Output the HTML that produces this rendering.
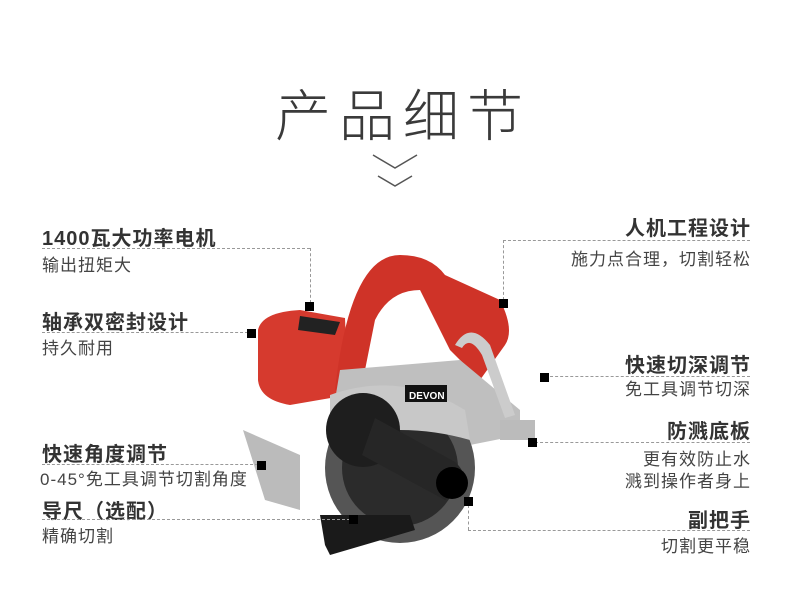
<!DOCTYPE html>
<html><head><meta charset="utf-8"><style>
body{margin:0;width:790px;height:600px;background:#fff;position:relative;overflow:hidden;font-family:"Liberation Sans","Noto Sans CJK SC",sans-serif;}
.t{position:absolute;white-space:nowrap;color:#333;}
.b{font-weight:bold;font-size:20px;letter-spacing:1px;color:#333;}
.s{font-size:17px;letter-spacing:1px;color:#444;}
.r{text-align:right;right:39px;}
.dl{position:absolute;border-top:1px dashed #999;height:0;}
.dv{position:absolute;border-left:1px dashed #999;width:0;}
.sq{position:absolute;width:9px;height:9px;background:#000;}
</style></head><body>
<div class="t" style="left:8px;width:790px;text-align:center;top:72px;font-size:56px;color:#3a3a3a;letter-spacing:8px;font-weight:300">产品细节</div>
<svg style="position:absolute;left:0;top:0" width="790" height="600">
<polyline points="373,155 395,168 417,155" fill="none" stroke="#555" stroke-width="1.5"/>
<polyline points="378,176 395,186 412,176" fill="none" stroke="#555" stroke-width="1.5"/>
<path d="M258,330 Q262,312 300,310 L345,318 L348,395 L290,405 Q260,400 258,380 Z" fill="#d63a2e"/>
<path d="M300,316 L340,322 L335,335 L298,330Z" fill="#222"/>
<path d="M335,390 Q350,255 400,255 Q430,255 445,275 L500,300 Q515,330 505,345 L480,380 L450,350 L420,290 Q390,290 375,320 L360,395 Z" fill="#cf3328"/>
<path d="M340,370 L460,360 L520,410 L520,435 L470,445 L330,430 Z" fill="#bfbfbf"/>
<circle cx="400" cy="468" r="75" fill="#555"/>
<circle cx="400" cy="468" r="58" fill="#2b2b2b"/>
<path d="M330,395 Q400,370 465,410 L470,440 Q400,420 330,440Z" fill="#c8c8c8"/>
<rect x="405" y="385" width="42" height="17" fill="#111"/>
<text x="409" y="399" font-size="10" fill="#fff" font-family="Liberation Sans" font-weight="bold">DEVON</text>
<circle cx="363" cy="430" r="37" fill="#1e1e1e"/>
<path d="M375,418 L455,462 Q470,475 460,492 L445,500 L362,455 Z" fill="#262626"/>
<circle cx="452" cy="483" r="16" fill="#000"/>
<path d="M243,430 L300,455 L300,510 L265,500 Z" fill="#bbb"/>
<path d="M320,515 L410,515 L415,530 L330,555 L325,545 Z" fill="#1a1a1a"/>
<path d="M455,345 Q470,320 490,345 L515,415 L505,418 L482,355 Q470,335 462,348 Z" fill="#ccc"/>
<path d="M500,420 L535,420 L535,440 L500,440Z" fill="#bbb"/>
</svg>
<div class="t b" style="left:42px;top:222px">1400瓦大功率电机</div>
<div class="t s" style="left:42px;top:251px">输出扭矩大</div>
<div class="dl" style="left:42px;top:248px;width:268px"></div>
<div class="dv" style="left:310px;top:248px;height:55px"></div>
<div class="sq" style="left:305px;top:302px"></div>

<div class="t b" style="left:42px;top:306px">轴承双密封设计</div>
<div class="t s" style="left:42px;top:334px">持久耐用</div>
<div class="dl" style="left:42px;top:332px;width:206px"></div>
<div class="sq" style="left:247px;top:329px"></div>

<div class="t b" style="left:42px;top:438px">快速角度调节</div>
<div class="t s" style="left:40px;top:465px">0-45°免工具调节切割角度</div>
<div class="dl" style="left:42px;top:464px;width:216px"></div>
<div class="sq" style="left:257px;top:461px"></div>

<div class="t b" style="left:42px;top:495px">导尺（选配）</div>
<div class="t s" style="left:42px;top:522px">精确切割</div>
<div class="dl" style="left:42px;top:519px;width:308px"></div>
<div class="sq" style="left:349px;top:515px"></div>

<div class="t b r" style="top:212px">人机工程设计</div>
<div class="t s r" style="top:245px">施力点合理，切割轻松</div>
<div class="dl" style="left:503px;top:240px;width:247px"></div>
<div class="dv" style="left:503px;top:240px;height:60px"></div>
<div class="sq" style="left:499px;top:299px"></div>

<div class="t b r" style="top:349px">快速切深调节</div>
<div class="t s r" style="top:375px">免工具调节切深</div>
<div class="dl" style="left:545px;top:376px;width:205px"></div>
<div class="sq" style="left:540px;top:373px"></div>

<div class="t b r" style="top:415px">防溅底板</div>
<div class="t s r" style="top:445px">更有效防止水</div>
<div class="t s r" style="top:467px">溅到操作者身上</div>
<div class="dl" style="left:535px;top:442px;width:215px"></div>
<div class="sq" style="left:528px;top:438px"></div>

<div class="t b r" style="top:504px">副把手</div>
<div class="t s r" style="top:532px">切割更平稳</div>
<div class="dv" style="left:468px;top:505px;height:25px"></div>
<div class="dl" style="left:468px;top:530px;width:282px"></div>
<div class="sq" style="left:464px;top:497px"></div>
</body></html>
